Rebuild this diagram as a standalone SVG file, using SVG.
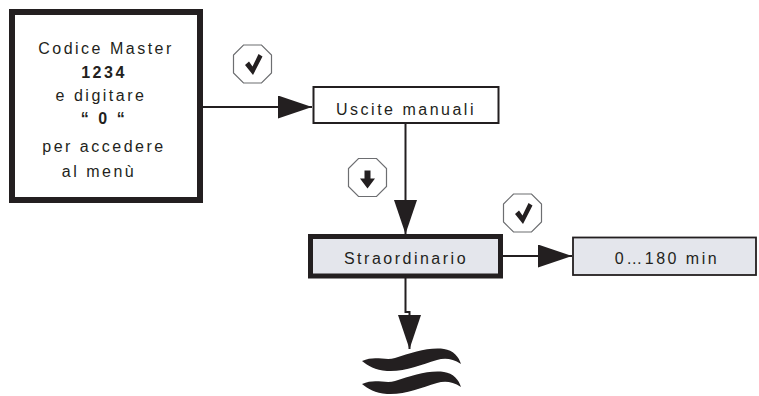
<svg xmlns="http://www.w3.org/2000/svg" width="759" height="396" viewBox="0 0 759 396">
<style>
.t{font-family:"Liberation Sans",Arial,sans-serif;font-size:16px;fill:#231f20;letter-spacing:2.5px;text-anchor:middle}
.b{font-weight:bold}
.ln{fill:none;stroke:#231f20;stroke-width:2}
.oct{fill:#fff;stroke:#6d6e71;stroke-width:1.2}
.gl{fill:#231f20}
</style>
<defs>
<marker id="ah" markerUnits="userSpaceOnUse" viewBox="0 0 34 23" markerWidth="34" markerHeight="23" refX="34" refY="11.5" orient="auto">
<path d="M0,0 L34,11.5 L0,23 Z" fill="#231f20"/>
</marker>
<polygon id="octagon" points="-9,-19 9,-19 19,-9 19,9 9,19 -9,19 -19,9 -19,-9" class="oct"/>
<polygon id="check" points="-7.5,1 -3.5,-2.5 0,2.5 6,-10 10,-7.5 0.5,11" class="gl"/>
<polygon id="down" points="-3,-7 3,-7 3,1 7.5,1 0,11 -7.5,1 -3,1" class="gl"/>
<path id="wave" d="M362,361 C375,355 385,361 395,358 C412,353 428,347 444,349 C453,350 459,357 461,364 C452,358 444,358 437,360 C420,365 405,372 387,371 C375,370 368,366 362,361 Z" fill="#231f20"/>
</defs>

<g id="connectors">
<line class="ln" x1="203" y1="107" x2="312" y2="107" marker-end="url(#ah)"/>
<line class="ln" x1="405.5" y1="123" x2="405.5" y2="234" marker-end="url(#ah)"/>
<line class="ln" x1="503" y1="256" x2="572" y2="256" marker-end="url(#ah)"/>
<polyline class="ln" points="405.5,278 405.5,312 409.5,312 409.5,349" marker-end="url(#ah)"/>
</g>

<g id="node-master">
<rect x="12" y="12" width="188" height="188" fill="#fff" stroke="#231f20" stroke-width="6"/>
<text class="t" x="106" y="54">Codice Master</text>
<text class="t b" x="104" y="78">1234</text>
<text class="t" x="101" y="101">e digitare</text>
<text class="t b" x="104" y="124">“ 0 “</text>
<text class="t" x="104" y="152">per accedere</text>
<text class="t" x="99" y="177">al menù</text>
</g>

<g id="icon-ok-1"><use href="#octagon" x="252.5" y="64"/><use href="#check" x="252.5" y="64"/></g>

<g id="node-uscite">
<rect x="313.5" y="87" width="185" height="36" fill="#fff" stroke="#231f20" stroke-width="2"/>
<text class="t" x="406" y="115">Uscite manuali</text>
</g>

<g id="icon-down"><use href="#octagon" x="367.5" y="177.5"/><use href="#down" x="367.5" y="177.5"/></g>

<g id="icon-ok-2"><use href="#octagon" x="522.5" y="213"/><use href="#check" x="522.5" y="213"/></g>

<g id="node-straordinario">
<rect x="310.5" y="236.5" width="190" height="39.5" fill="#e4e6ec" stroke="#231f20" stroke-width="5"/>
<text class="t" x="406" y="264">Straordinario</text>
</g>

<g id="node-range">
<rect x="573" y="237.5" width="183" height="37.5" fill="#e4e6ec" stroke="#231f20" stroke-width="1.8"/>
<text class="t" x="667" y="264">0…180 min</text>
</g>

<g id="break">
<use href="#wave"/>
<use href="#wave" y="23"/>
</g>
</svg>
